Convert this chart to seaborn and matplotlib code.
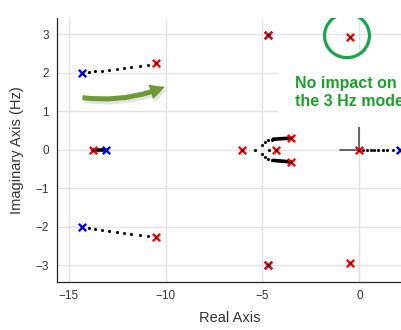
import numpy as np
import pandas as pd
import matplotlib.pyplot as plt
import seaborn as sns
from matplotlib.patches import Ellipse

sns.set_style('white')
plt.rcParams['font.family'] = ['Liberation Sans', 'DejaVu Sans']

# locus dots (real, imag)
dots_re = [-13.95, -13.62, -13.28, -12.92, -12.53, -12.16, -11.76, -11.34, -10.91,
           -13.95, -13.62, -13.28, -12.92, -12.53, -12.16, -11.76, -11.34, -10.91,
           -5.41, -4.64, -5.00, -4.88, -4.70, -4.52, -5.00, -4.88, -4.70, -4.52,
           0.21, 0.41, 0.59, 0.77, 0.98, 1.20, 1.44, 1.72]
dots_im = [2.01, 2.03, 2.04, 2.07, 2.10, 2.12, 2.14, 2.18, 2.21,
           -2.04, -2.06, -2.09, -2.11, -2.13, -2.16, -2.18, -2.21, -2.25,
           0.0, 0.0, 0.12, 0.19, 0.24, 0.26, -0.12, -0.19, -0.24, -0.27,
           0, 0, 0, 0, 0, 0, 0, 0]

# dense parts of the locus drawn as segments
seg_re = [[-13.75, -13.06], [-4.45, -3.52], [-4.45, -3.52]]
seg_im = [[0.0, 0.0], [0.27, 0.30], [-0.28, -0.32]]

# poles (red) and zeros (blue)
zero_re = [-14.33, -14.33, -13.06, -4.73, -4.73, 2.08]
zero_im = [2.00, -2.02, 0.0, 2.97, -2.99, 0.0]
pole_re = [-10.48, -10.48, -13.75, -6.08, -4.29, -3.52, -3.52, -4.73, -4.73, -0.50, -0.50, 0.0]
pole_im = [2.24, -2.27, 0.0, 0.0, 0.0, 0.30, -0.32, 2.97, -2.99, 2.93, -2.95, 0.0]

# cross at the origin
cross_re = [-1.0, 0.0, 0.0]
cross_im = [0.0, 0.0, 0.58]

fig = plt.figure(figsize=(4.02, 3.3), dpi=100)
ax = fig.add_axes([57 / 402, 48 / 330, 345 / 402, 264 / 330])

ax.grid(True, color='#e3e3e3', linewidth=1)
ax.set_axisbelow(True)

ax.plot(cross_re, cross_im, color='#4d4d4d', lw=1.2, zorder=2)

for sx, sy in zip(seg_re, seg_im):
    sns.lineplot(x=sx, y=sy, color='black', lw=2.6, sort=False, estimator=None, ax=ax, zorder=3)

sns.scatterplot(x=dots_re, y=dots_im, color='black', s=5, linewidth=0, ax=ax, zorder=3)
sns.scatterplot(x=zero_re, y=zero_im, marker='x', color='#0000ff', s=28, linewidth=1.7, ax=ax, zorder=4)
sns.scatterplot(x=pole_re, y=pole_im, marker='x', color='#ff0000', s=28, linewidth=1.7, ax=ax, zorder=5)
sns.scatterplot(x=zero_re + pole_re, y=zero_im + pole_im, color='black', s=3, linewidth=0, ax=ax, zorder=6)

# annotations
green_arrow = '#6e9a34'
ax.annotate('', xy=(-9.8, 1.58), xytext=(-14.33, 1.28),
            arrowprops=dict(arrowstyle='simple,head_length=0.9,head_width=0.9,tail_width=0.3',
                            connectionstyle='arc3,rad=0.14', fc='#c8c8c8', ec='none', alpha=0.5,
                            mutation_scale=12), zorder=6)
ax.annotate('', xy=(-9.9, 1.66), xytext=(-14.43, 1.36),
            arrowprops=dict(arrowstyle='simple,head_length=0.9,head_width=0.9,tail_width=0.3',
                            connectionstyle='arc3,rad=0.14', fc=green_arrow, ec='none',
                            mutation_scale=12), zorder=7)

ax.text(-3.3, 1.92, 'No impact on\nthe 3 Hz mode', ha='left', va='top', fontsize=11.5,
        fontweight='bold', color='#1f9e2c', linespacing=1.3,
        bbox=dict(boxstyle='square,pad=1.1', fc='white', ec='none'), zorder=5)
ax.add_patch(Ellipse((-0.64, 2.96), width=2.32, height=1.14, fill=False,
                     ec='#19a54b', lw=2.3, zorder=8))

ax.set_xlim(-15.6, 2.2)
ax.set_ylim(-3.44, 3.42)
ax.set_xticks([-15, -10, -5, 0])
ax.set_yticks([-3, -2, -1, 0, 1, 2, 3])
ax.tick_params(direction='in', length=3, width=0.8, colors='#333333', labelsize=8.5, pad=6)
for side in ['top', 'right']:
    ax.spines[side].set_visible(False)
for side in ['left', 'bottom']:
    ax.spines[side].set_color('#262626')
    ax.spines[side].set_linewidth(0.9)

ax.set_xlabel('Real Axis', fontsize=10.5, color='#333333', labelpad=6)
ax.set_ylabel('Imaginary Axis (Hz)', fontsize=10.5, color='#333333', labelpad=8)

fig.savefig('out.png', dpi=100)
